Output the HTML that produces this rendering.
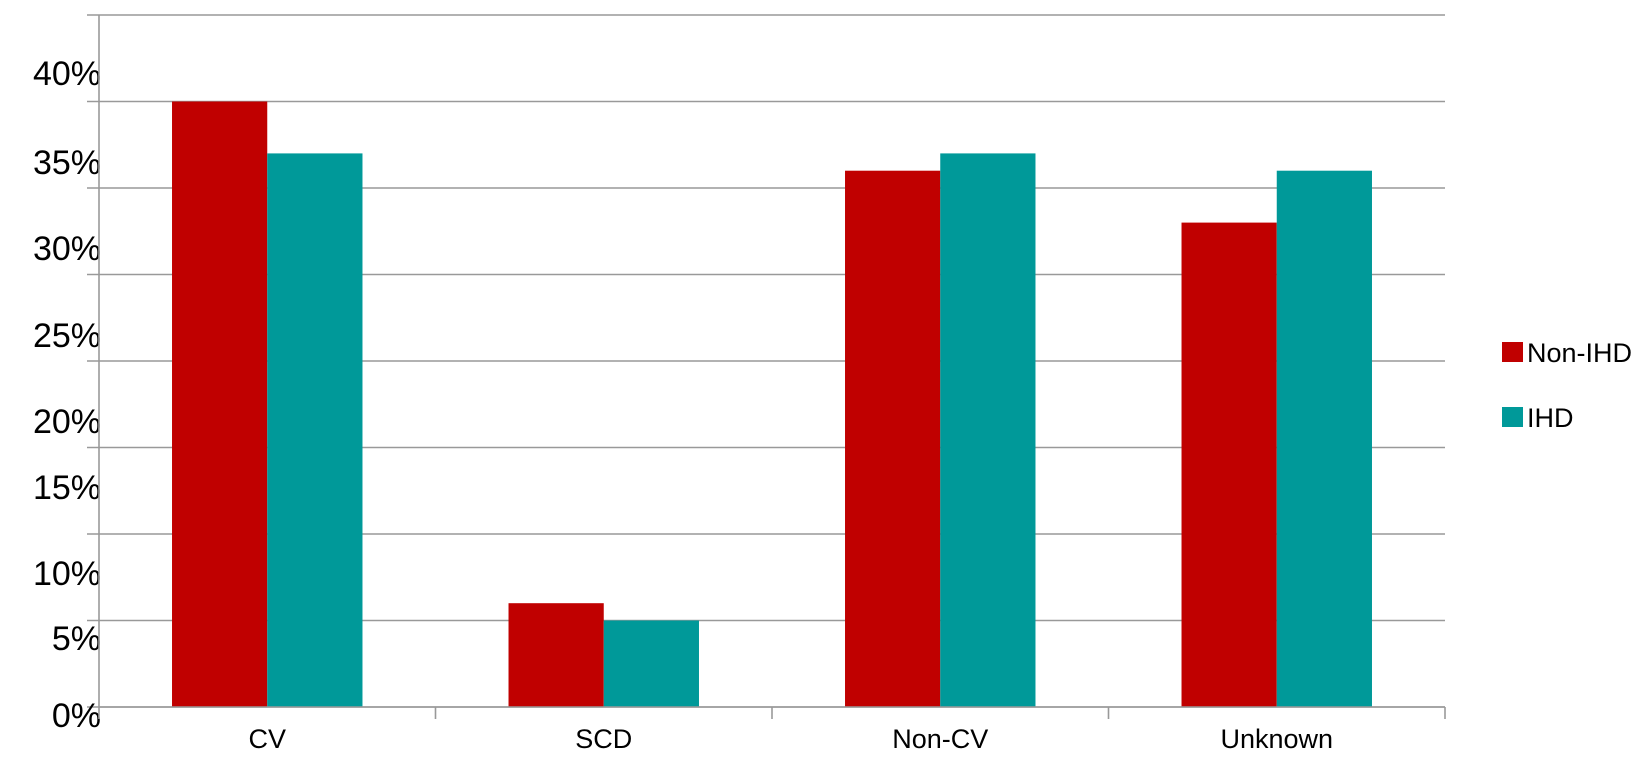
<!DOCTYPE html>
<html><head><meta charset="utf-8"><style>
html,body{margin:0;padding:0;background:#fff;}
body{width:1636px;height:760px;overflow:hidden;font-family:"Liberation Sans",Arial,sans-serif;}
</style></head><body>
<svg id="chart" width="1636" height="760" xmlns="http://www.w3.org/2000/svg"></svg>
<script>
const categories = ["CV", "SCD", "Non-CV", "Unknown"];
const nonIHD = [35, 6, 31, 28];
const ihd = [32, 5, 32, 31];
const yTicks = [0, 5, 10, 15, 20, 25, 30, 35, 40];
const yTickLabels = ["0%", "5%", "10%", "15%", "20%", "25%", "30%", "35%", "40%"];
const seriesNames = ["Non-IHD", "IHD"];

const NS = "http://www.w3.org/2000/svg";
const svg = document.getElementById('chart');
const X0 = 99, X1 = 1445, Y0 = 707, Ytop = 15, VMAX = 40;
const y = v => Y0 - (v / VMAX) * (Y0 - Ytop);
const bandW = (X1 - X0) / categories.length;
const xBand = i => X0 + i * bandW;
function el(tag, attrs, text) {
  const e = document.createElementNS(NS, tag);
  for (const k in attrs) e.setAttribute(k, attrs[k]);
  if (text !== undefined) e.textContent = text;
  svg.appendChild(e);
  return e;
}
// label offsets as rendered in reference (labels are visually shifted)
const labelY = [715, 638, 573, 487, 421, 335, 248, 162, 73];
yTicks.forEach((t, i) => {
  const g = el('line', {x1: X0 - 12, x2: X1, y1: y(t), y2: y(t), stroke: '#999', 'stroke-width': 1.6});
  
  
  const lb = el('text', {x: 101, y: labelY[i] + 12, 'text-anchor': 'end', 'font-size': 34, fill: '#000'}, yTickLabels[i]);
  
  
});
const ax = el('line', {x1: X0, x2: X0, y1: Ytop, y2: Y0, stroke: '#999', 'stroke-width': 1.6});


for (let i = 0; i <= categories.length; i++) {
  const tk = el('line', {x1: xBand(i), x2: xBand(i), y1: Y0, y2: Y0 + 12, stroke: '#999', 'stroke-width': 1.6});
  
  
}
const barW = bandW * 0.283, gap = (bandW - 2 * barW) / 2;
categories.forEach((c, i) => {
  const r = el('rect', {x: xBand(i) + gap, y: y(nonIHD[i]), width: barW, height: Y0 - y(nonIHD[i]), fill: '#c00000'});
  
  
  const t = el('rect', {x: xBand(i) + gap + barW, y: y(ihd[i]), width: barW, height: Y0 - y(ihd[i]), fill: '#009999'});
  
  
  const lb = el('text', {x: xBand(i) + bandW / 2, y: 748, 'text-anchor': 'middle', 'font-size': 27, fill: '#000'}, c);
  
  
});
const ax2 = el('line', {x1: X0, x2: X1, y1: Y0, y2: Y0, stroke: '#999', 'stroke-width': 1.6});


const colors = ['#c00000', '#009999'];
const legY = [352, 417];
seriesNames.forEach((n, i) => {
  const s = el('rect', {x: 1502, y: legY[i] - 10, width: 21, height: 20, fill: colors[i]});
  
  
  const t = el('text', {x: 1527, y: legY[i] + 10, 'font-size': 27, fill: '#000'}, n);
  
  
});
</script>
</body></html>
